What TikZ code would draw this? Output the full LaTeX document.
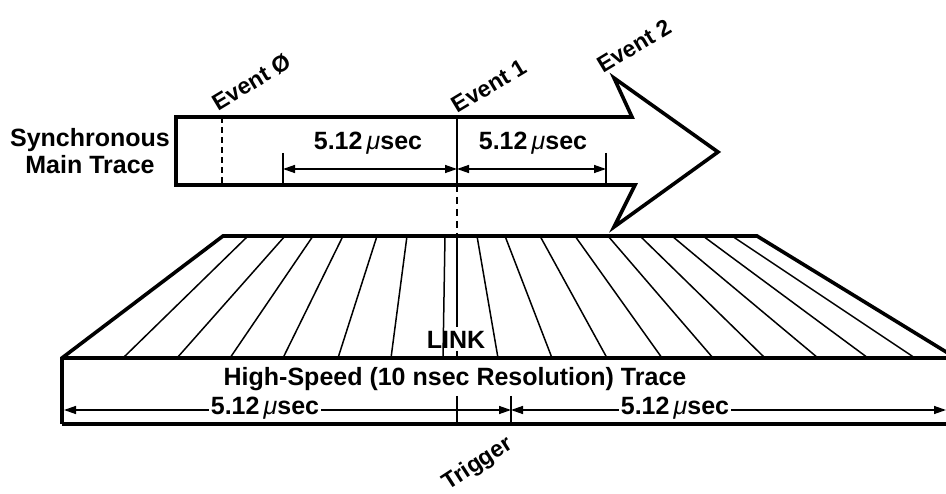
\documentclass[tikz,border=0pt]{standalone}
\usepackage{fontspec}
\setmainfont{Liberation Sans}
\usetikzlibrary{arrows.meta}
\newcommand{\usec}{5.12\,{\mdseries\itshape μ}sec}
\begin{document}
\begin{tikzpicture}[x=1pt,y=-1pt,
  outline/.style={line width=3.6pt, line join=miter},
  hatch/.style={line width=1.5pt},
  tick/.style={line width=1.5pt},
  dim/.style={line width=1.4pt, {Triangle[length=12pt,width=8pt]}-{Triangle[length=12pt,width=8pt]}},
  lbl/.style={font=\fontsize{25}{27}\selectfont\bfseries, inner sep=0pt},
  evl/.style={font=\fontsize{23}{25}\selectfont\bfseries, inner sep=0pt},
  cut/.style={lbl, fill=white, inner xsep=2pt, inner ysep=1pt},
]
\useasboundingbox (0,0) rectangle (946,494);
\fill[white] (0,0) rectangle (946,494);
\begin{scope}
\clip (0,0) rectangle (946,494);

% ---------- upper arrow (synchronous main trace)
\coordinate (a1) at (176,117);
\coordinate (a2) at (632,117);
\coordinate (a3) at (614,78);
\coordinate (a4) at (718,152);
\coordinate (a5) at (614,227);
\coordinate (a6) at (635,185);
\coordinate (a7) at (176,185);
\draw[outline] (a1) -- (a2) -- (a3) -- (a4) -- (a5) -- (a6) -- (a7) -- cycle;

\coordinate (e0t) at (222,117); \coordinate (e0b) at (222,185);
\draw[line width=2pt, dashed, dash pattern=on 6pt off 4pt] (e0t) -- (e0b);
\coordinate (e1t) at (457,117); \coordinate (e1b) at (457,185);
\draw[line width=2.2pt] (e1t) -- (e1b);

\coordinate (d0t) at (283,153); \coordinate (d0b) at (283,185);
\coordinate (d2t) at (606,153); \coordinate (d2b) at (606,185);
\draw[tick] (d0t) -- (d0b);
\draw[tick] (d2t) -- (d2b);
\coordinate (m0) at (283,169); \coordinate (m1) at (457,169); \coordinate (m2) at (606,169);
\draw[dim] (m0) -- (m1);
\draw[dim] (m1) -- (m2);
\node[lbl] (u1) at (368,143) {\usec};
\node[lbl] (u2) at (533,143) {\usec};

\node[lbl, align=center] (smt) at (90,151) {Synchronous\\Main Trace};

\node[evl, rotate=31] (ev0) at (252,82) {Event Ø};
\node[evl, rotate=31] (ev1) at (489,86) {Event 1};
\node[evl, rotate=31] (ev2) at (634,46) {Event 2};

% ---------- link
\coordinate (k0) at (457,236); \coordinate (k1) at (457,327);
\draw[line width=2.2pt, dashed, dash pattern=on 7pt off 5pt] (e1b) -- (k0);
\draw[line width=2.6pt] (k0) -- (k1);
\node[lbl] (link) at (456,340) {LINK};

% ---------- trapezoid (high-speed trace)
\coordinate (t1) at (62,358);
\coordinate (t2) at (223,236);
\coordinate (t3) at (757,236);
\coordinate (t4) at (956,358);
\coordinate (b1) at (62,424);
\coordinate (b4) at (956,424);

\foreach \tx/\bx in {248/123,285/177,313/230,343/283,377/338,407/391,445/443,
                     477/498,505/552,540/607,575/662,608/713,640/765,672/818,703/868,732/915}
  \draw[hatch] (\tx,236) -- (\bx,358);

\draw[outline] (b1) -- (t1) -- (t2) -- (t3) -- (t4);
\draw[outline] (t1) -- (t4);
\draw[outline] (b1) -- (b4);
\draw[tick] (457,351) -- (457,358);

\node[lbl] (hs) at (455,379) {High-Speed (10 nsec Resolution) Trace};

% ---------- lower dimensions
\coordinate (n0) at (64,410); \coordinate (n1) at (511,410); \coordinate (n2) at (946,410);
\coordinate (tg1) at (457,396); \coordinate (tg2) at (457,424);
\coordinate (tr1) at (511,396); \coordinate (tr2) at (511,424);
\draw[tick] (tg1) -- (tg2);
\draw[tick] (tr1) -- (tr2);
\draw[dim] (n0) -- (n1);
\draw[dim] (n1) -- (n2);
\node[cut] (l1) at (265,408) {\usec};
\node[cut] (l2) at (675,408) {\usec};

\node[evl, rotate=33] (trig) at (478,464) {Trigger};
\end{scope}
\end{tikzpicture}
\end{document}
